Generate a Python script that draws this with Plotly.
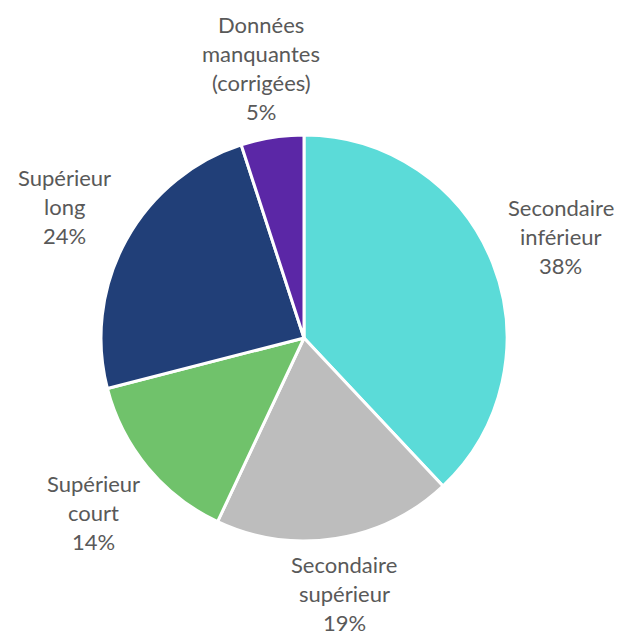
import math
import plotly.graph_objects as go

labels = ["Secondaire inférieur", "Secondaire supérieur", "Supérieur court", "Supérieur long", "Données manquantes (corrigées)"]
label_lines = [["Secondaire", "inférieur"], ["Secondaire", "supérieur"], ["Supérieur", "court"], ["Supérieur", "long"], ["Données", "manquantes", "(corrigées)"]]
values = [38, 19, 14, 24, 5]
colors = ["#5BDBD8", "#BDBDBD", "#70C26B", "#213F78", "#5B27A6"]

W, H = 622, 635
off = 8  # page body margin
cx, cy, r = 304 - off, 338 - off, 203  # pie centre and radius in pixels
fsize = 22
line_gap = 29
gap = 10

fig = go.Figure(go.Pie(
    labels=labels, values=values, sort=False, direction="clockwise", rotation=0,
    marker=dict(colors=colors, line=dict(color="white", width=3)),
    textinfo="none", hoverinfo="label+percent", showlegend=False,
    domain=dict(x=[(cx - r) / W, (cx + r) / W], y=[1 - (cy + r) / H, 1 - (cy - r) / H]),
))

total = sum(values)
cum = 0
for lines, v in zip(label_lines, values):
    mid = (cum + v / 2) / total * 2 * math.pi
    cum += v
    pct = f"{round(v / total * 100)}%"
    all_lines = lines + [pct]
    n = len(all_lines)
    # approximate label box size, to keep the box just outside the pie
    bw = max(len(t) for t in all_lines) * 0.48 * fsize
    bh = (n - 1) * line_gap + 0.8 * fsize
    s, c = math.sin(mid), math.cos(mid)
    d = r + gap + abs(s) * bw / 2 + abs(c) * bh / 2
    lx = cx + d * s
    ly = cy - d * c
    for i, t in enumerate(all_lines):
        yy = ly + (i - (n - 1) / 2) * line_gap
        fig.add_annotation(x=lx / W, y=1 - yy / H, xref="paper", yref="paper",
                           text=t, showarrow=False, xanchor="center", yanchor="middle",
                           font=dict(family="Lato", size=fsize, color="#595959"))

fig.update_layout(width=W, height=H, margin=dict(l=0, r=0, t=0, b=0),
                  paper_bgcolor="white", plot_bgcolor="white")
fig.write_html("out.html")
